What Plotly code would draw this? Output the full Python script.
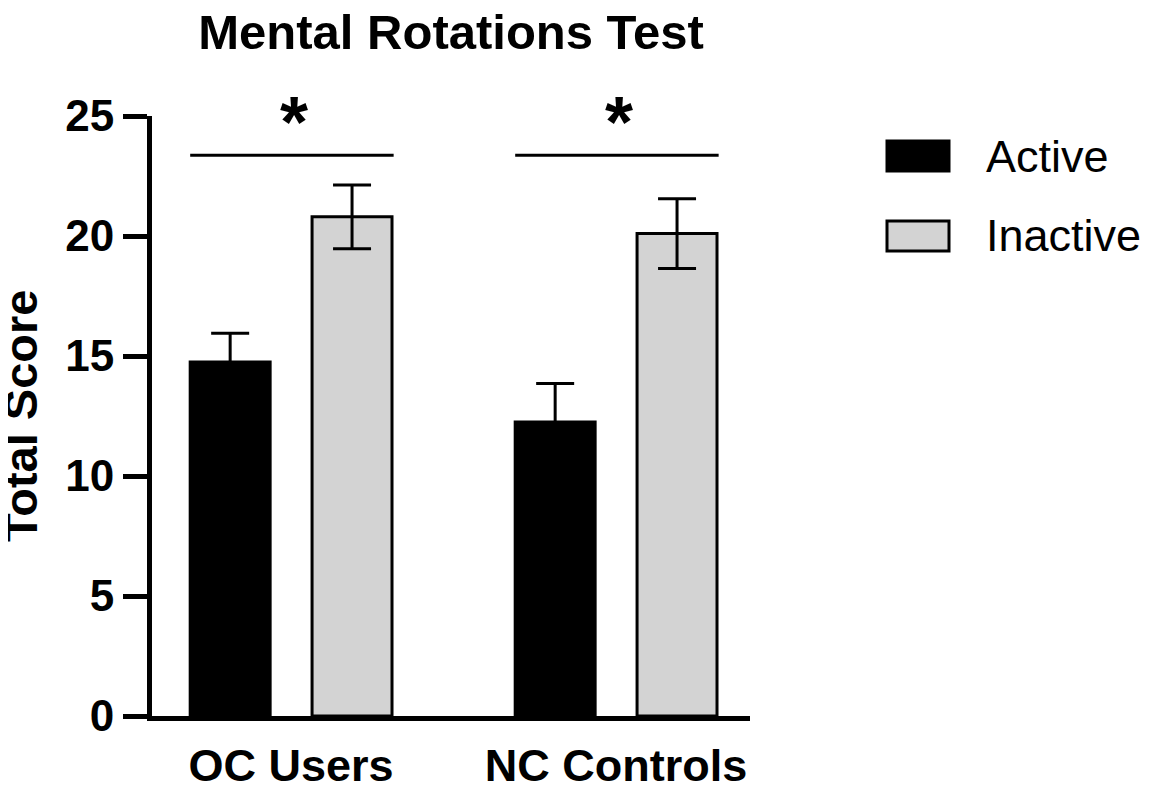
import plotly.graph_objects as go

# data
groups = ["OC Users", "NC Controls"]
active = [14.75, 12.25]
active_err = [1.2, 1.6]
inactive = [20.8, 20.1]
inactive_err = [1.33, 1.45]
sig_y = [23.36, 23.36]
sig_text = ["*", "*"]

font_name = "Liberation Sans, Arial, sans-serif"

# the page body adds 8px around the figure, so the figure is 8px smaller
W, H = 1142, 781
PL, PR, PT, PB = 144, 742, 108, 708   # plot area inside the figure

# bar layout
bar_gap = 0.25
group_gap = 0.344
slot = (1 - bar_gap) / 2
half_span = slot / 2 + slot * (1 - group_gap) / 2

fig = go.Figure()
fig.add_trace(go.Bar(
    x=groups, y=active, name="Active",
    marker=dict(color="black", line=dict(color="black", width=3)),
    error_y=dict(type="data", array=active_err, color="black", thickness=3, width=19),
    showlegend=False,
))
fig.add_trace(go.Bar(
    x=groups, y=inactive, name="Inactive",
    marker=dict(color="#d3d3d3", line=dict(color="black", width=3)),
    error_y=dict(type="data", array=inactive_err, color="black", thickness=3, width=19),
    showlegend=False,
))

# significance bars + stars
for i, g in enumerate(groups):
    fig.add_shape(type="line", xref="x", yref="y",
                  x0=i - half_span, x1=i + half_span + 0.005, y0=sig_y[i], y1=sig_y[i],
                  line=dict(color="black", width=3))
    fig.add_annotation(x=i + 0.008, y=sig_y[i] + 1.4, text="<b>" + sig_text[i] + "</b>",
                       showarrow=False, font=dict(family=font_name, size=72, color="black"),
                       yanchor="middle", xanchor="center")

# page pixel -> paper helpers
def px_x(v):
    return (v - 8 - PL) / float(PR - PL)

def px_y(v):
    return (PB - (v - 8)) / float(PB - PT)

# hand-made legend (big swatches like the original)
legend_items = [("Active", "black", 156), ("Inactive", "#d3d3d3", 236)]
for name, col, yc in legend_items:
    fig.add_shape(type="rect", xref="paper", yref="paper",
                  x0=px_x(887), x1=px_x(949), y0=px_y(yc + 15), y1=px_y(yc - 15),
                  fillcolor=col, line=dict(color="black", width=3))
    fig.add_annotation(xref="paper", yref="paper", x=px_x(984), y=px_y(yc),
                       text=name, showarrow=False, xanchor="left", yanchor="middle",
                       font=dict(family=font_name, size=45, color="black"))

# y axis title as rotated text
fig.add_annotation(xref="paper", yref="paper", x=px_x(20), y=px_y(416),
                   text="<b>Total Score</b>", textangle=-90, showarrow=False,
                   xanchor="center", yanchor="middle",
                   font=dict(family=font_name, size=47, color="black"))

fig.update_layout(
    width=W, height=H,
    paper_bgcolor="white", plot_bgcolor="white",
    margin=dict(l=PL, r=W - PR, t=PT, b=H - PB),
    barmode="group", bargap=bar_gap, bargroupgap=group_gap,
    font=dict(family=font_name, color="black"),
    title=dict(text="<b>Mental Rotations Test</b>", x=0.5, xref="paper",
               y=1 - 24 / H, yref="container", yanchor="middle", xanchor="center",
               font=dict(size=49, color="black")),
)
fig.update_xaxes(
    range=[-0.428, 1.412], showline=True, linecolor="black", linewidth=5,
    ticks="", showgrid=False, zeroline=False, automargin=False,
    tickfont=dict(size=45, family=font_name, weight="bold"), ticklabelstandoff=6,
)
fig.update_yaxes(
    range=[0, 25], tickvals=[0, 5, 10, 15, 20, 25], showline=True, linecolor="black",
    linewidth=5, ticks="outside", ticklen=24, tickwidth=5, tickcolor="black",
    showgrid=False, zeroline=False, automargin=False,
    tickfont=dict(size=44, family=font_name, weight="bold"),
)

fig.write_html("out.html")
